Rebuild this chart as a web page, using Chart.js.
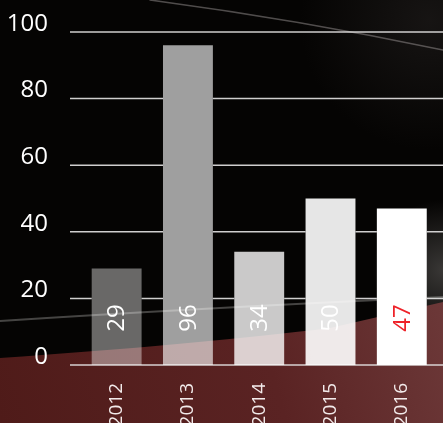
<!DOCTYPE html>
<html>
<head>
<meta charset="utf-8">
<script src="https://cdn.jsdelivr.net/npm/chart.js@4"></script>
<style>
  html, body { margin: 0; padding: 0; background: #040303; }
  canvas { display: block; }
</style>
</head>
<body>
<canvas id="chart" width="443" height="423"></canvas>
<script>
const years = ['2012', '2013', '2014', '2015', '2016'];
const values = [29, 96, 34, 50, 47];
const yTicks = [0, 20, 40, 60, 80, 100];
const barColors = [
  'rgba(255,255,255,0.40)',
  'rgba(255,255,255,0.62)',
  'rgba(255,255,255,0.79)',
  'rgba(255,255,255,0.90)',
  'rgba(255,255,255,1)'
];
const valueColors = ['#ffffff', '#ffffff', '#ffffff', '#ffffff', '#ee2229'];

const FONT = '"Open Sans", "Noto Sans", sans-serif';

// dark photo-like backdrop with the red cloth along the bottom
const backdrop = {
  id: 'backdrop',
  beforeDraw(chart) {
    const { ctx, width, height } = chart;
    ctx.save();
    ctx.fillStyle = '#050403';
    ctx.fillRect(0, 0, width, height);

    const haze = ctx.createRadialGradient(430, 20, 0, 430, 20, 130);
    haze.addColorStop(0, 'rgba(30,27,26,0.7)');
    haze.addColorStop(1, 'rgba(30,27,26,0)');
    ctx.fillStyle = haze;
    ctx.fillRect(0, 0, width, height);

    const haze2 = ctx.createRadialGradient(443, 270, 0, 443, 270, 70);
    haze2.addColorStop(0, 'rgba(70,68,66,0.8)');
    haze2.addColorStop(1, 'rgba(70,68,66,0)');
    ctx.fillStyle = haze2;
    ctx.fillRect(0, 0, width, height);

    ctx.beginPath();
    ctx.moveTo(0, 358);
    ctx.bezierCurveTo(120, 350, 250, 338, 330, 328);
    ctx.lineTo(width, 302);
    ctx.lineTo(width, height);
    ctx.lineTo(0, height);
    ctx.closePath();
    const red = ctx.createLinearGradient(0, height, width, 300);
    red.addColorStop(0, '#4f1b19');
    red.addColorStop(0.6, '#5a2323');
    red.addColorStop(1, '#6c3838');
    ctx.fillStyle = red;
    ctx.fill();

    ctx.lineCap = 'round';
    ctx.strokeStyle = 'rgba(190,190,185,0.35)';
    ctx.lineWidth = 2;
    ctx.beginPath();
    ctx.moveTo(0, 321);
    ctx.quadraticCurveTo(200, 308, width, 297);
    ctx.stroke();

    ctx.strokeStyle = 'rgba(170,165,165,0.45)';
    ctx.lineWidth = 1.5;
    ctx.beginPath();
    ctx.moveTo(150, 0);
    ctx.quadraticCurveTo(300, 20, width, 50);
    ctx.stroke();
    ctx.restore();
  }
};

// horizontal rules behind the bars, running from the tick labels to the edge;
// the bar rectangles are clipped out so the rules do not show through them
const gridLines = {
  id: 'gridLines',
  beforeDatasetsDraw(chart) {
    const { ctx, width, height } = chart;
    const y = chart.scales.y;
    const zero = y.getPixelForValue(0);
    ctx.save();
    ctx.beginPath();
    ctx.rect(0, 0, width, height);
    chart.getDatasetMeta(0).data.forEach(bar => {
      ctx.rect(bar.x - bar.width / 2, bar.y, bar.width, zero - bar.y - 1);
    });
    ctx.clip('evenodd');
    ctx.strokeStyle = 'rgba(230,228,228,0.9)';
    ctx.lineWidth = 1.5;
    yTicks.forEach(v => {
      const py = y.getPixelForValue(v);
      ctx.beginPath();
      ctx.moveTo(70, py);
      ctx.lineTo(width, py);
      ctx.stroke();
    });
    ctx.restore();
  }
};

// vertical value labels near the foot of each bar
const valueLabels = {
  id: 'valueLabels',
  afterDatasetsDraw(chart) {
    const { ctx } = chart;
    const base = chart.scales.y.getPixelForValue(0);
    chart.getDatasetMeta(0).data.forEach((bar, i) => {
      ctx.save();
      ctx.translate(bar.x + 1, base - 47);
      ctx.rotate(-Math.PI / 2);
      ctx.textAlign = 'center';
      ctx.textBaseline = 'middle';
      ctx.fillStyle = valueColors[i];
      ctx.font = '24px ' + FONT;
      ctx.fillText(String(values[i]), 0, 0);
      ctx.restore();
    });
  }
};

new Chart(document.getElementById('chart'), {
  type: 'bar',
  data: {
    labels: years,
    datasets: [{
      data: values,
      backgroundColor: barColors,
      borderWidth: 0,
      barPercentage: 0.7,
      categoryPercentage: 1.0
    }]
  },
  options: {
    responsive: false,
    animation: false,
    layout: { padding: { top: 32, right: 4, left: 0, bottom: 0 } },
    plugins: {
      legend: { display: false },
      tooltip: { enabled: false }
    },
    scales: {
      x: {
        grid: { display: false, drawTicks: false },
        border: { display: false },
        ticks: {
          color: '#f2eaea',
          font: { family: FONT, size: 19 },
          minRotation: 90,
          maxRotation: 90,
          padding: 18,
          autoSkip: false
        },
        afterFit(scale) { scale.height = 58; }
      },
      y: {
        min: yTicks[0],
        max: yTicks[yTicks.length - 1],
        grid: { display: false, drawTicks: false },
        border: { display: false },
        ticks: {
          stepSize: 20,
          color: '#ffffff',
          font: { family: FONT, size: 24 },
          padding: 33,
          labelOffset: -8
        },
        afterFit(scale) {
          scale.width = 81;
          scale.paddingTop = 0;
          scale.paddingBottom = 0;
        }
      }
    }
  },
  plugins: [backdrop, gridLines, valueLabels]
});
</script>
</body>
</html>
